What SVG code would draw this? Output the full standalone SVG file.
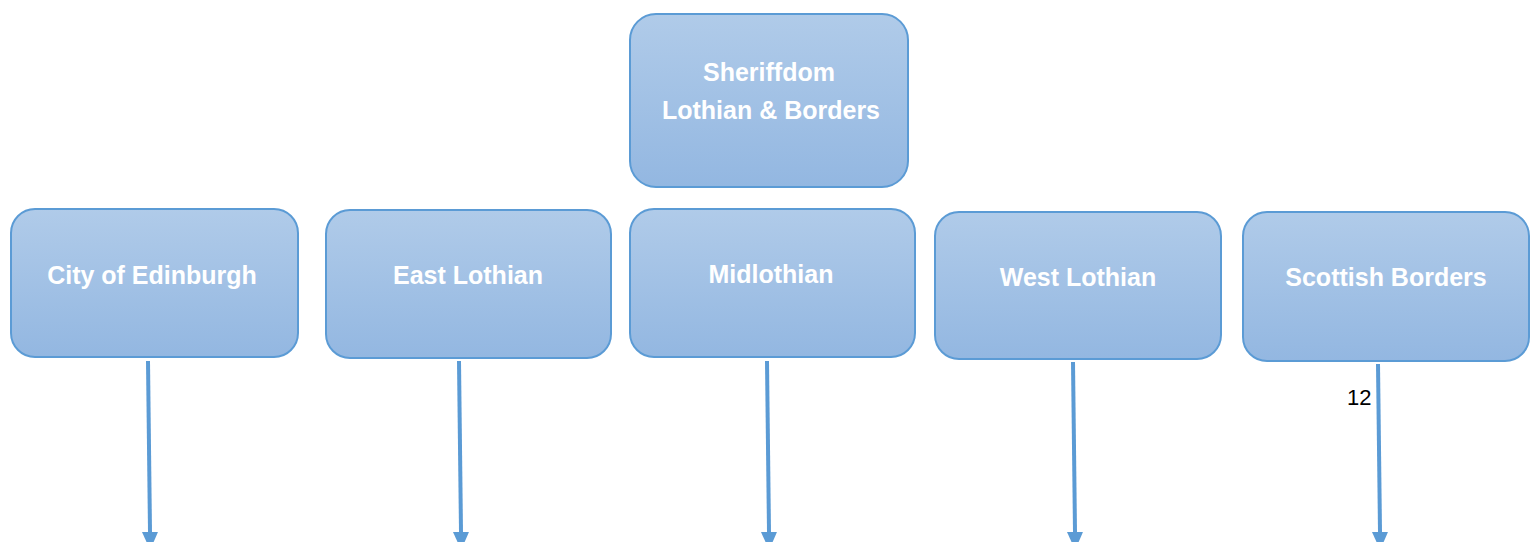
<svg xmlns="http://www.w3.org/2000/svg" width="1531" height="542" viewBox="0 0 1531 542">
<style>
.box{fill:url(#g);stroke:#5b9bd5;stroke-width:2}
.t{font-family:"Liberation Sans",Arial,sans-serif;font-weight:bold;font-size:25px;fill:#fff;text-anchor:middle}
.c{stroke:#5b9bd5;stroke-width:4;fill:none;marker-end:url(#a)}
</style>
<defs>
<linearGradient id="g" x1="0" y1="0" x2="0" y2="1">
<stop offset="0" stop-color="#b0cbe9"/>
<stop offset="1" stop-color="#93b7e1"/>
</linearGradient>
<marker id="a" markerWidth="4.5" markerHeight="4" refX="0" refY="2" orient="auto" markerUnits="strokeWidth">
<path d="M0,0 L4.5,2 L0,4 Z" fill="#5b9bd5"/>
</marker>
</defs>
<g id="sheriffdom"><rect class="box" x="630" y="14" width="278" height="173" rx="26"/><text class="t" x="769" y="81">Sheriffdom</text><text class="t" x="771" y="119">Lothian &amp; Borders</text></g>
<g id="edinburgh"><rect class="box" x="11" y="209" width="287" height="148" rx="24"/><text class="t" x="152" y="284">City of Edinburgh</text></g>
<g id="eastlothian"><rect class="box" x="326" y="210" width="285" height="148" rx="24"/><text class="t" x="468" y="284">East Lothian</text></g>
<g id="midlothian"><rect class="box" x="630" y="209" width="285" height="148" rx="24"/><text class="t" x="771" y="283">Midlothian</text></g>
<g id="westlothian"><rect class="box" x="935" y="212" width="286" height="147" rx="24"/><text class="t" x="1078" y="286">West Lothian</text></g>
<g id="borders"><rect class="box" x="1243" y="212" width="286" height="149" rx="24"/><text class="t" x="1386" y="286">Scottish Borders</text></g>
<g id="connectors">
<line class="c" x1="148" y1="361" x2="150" y2="532"/>
<line class="c" x1="459" y1="361" x2="461" y2="532"/>
<line class="c" x1="767" y1="361" x2="769" y2="532"/>
<line class="c" x1="1073" y1="362" x2="1075" y2="532"/>
<line class="c" x1="1378" y1="364" x2="1380" y2="532"/>
</g>
<text x="1347" y="405" style="font-family:'Liberation Sans',Arial,sans-serif;font-size:22px;fill:#000">12</text>
</svg>
